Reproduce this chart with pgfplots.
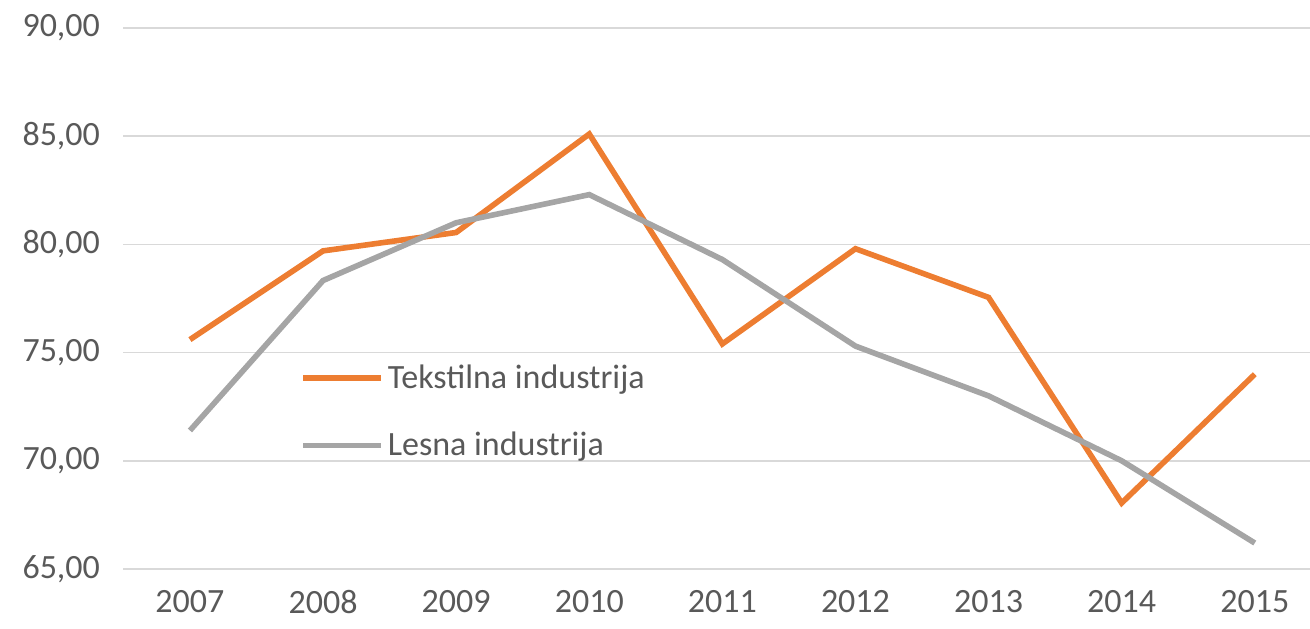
\documentclass[border=0pt]{standalone}
\usepackage{pgfplots}
\pgfplotsset{compat=1.18}
\usepackage{fontspec}
\setmainfont{Carlito}
\definecolor{orng}{HTML}{ED7D31}
\definecolor{gry}{HTML}{A5A5A5}
\definecolor{txt}{HTML}{595959}
\definecolor{grd}{HTML}{D9D9D9}
\begin{document}
\begin{tikzpicture}
\begin{axis}[
  scale only axis,
  width=593.5pt, height=270.5pt,
  xmin=2006.497, xmax=2015.415,
  ymin=65, ymax=90,
  ytick={65,70,75,80,85,90},
  xtick={2007,2008,2009,2010,2011,2012,2013,2014,2015},
  axis line style={draw=none},
  tick style={draw=none},
  ymajorgrids, grid style={grd, line width=0.8pt},
  font=\fontsize{17}{20}\selectfont,
  ticklabel style={text=txt},
  /pgf/number format/assume math mode=true,
  yticklabel style={/pgf/number format/use comma, /pgf/number format/fixed, /pgf/number format/fixed zerofill, /pgf/number format/precision=2, xshift=-8pt},
  xticklabel style={/pgf/number format/set thousands separator={}, yshift=-7pt},
  legend style={at={(rel axis cs:0.149,0.386)}, anchor=north west, draw=none, fill=none,
    font=\fontsize{17}{20}\selectfont, text=txt, row sep=16.5pt, inner sep=0pt,
    cells={anchor=west}},
  legend image code/.code={\draw[line width=2.8pt] (0pt,0pt) -- (39pt,0pt);},
]
\addplot[orng, line width=2.8pt] coordinates {
(2007,75.6) (2008,79.7) (2009,80.55) (2010,85.1) (2011,75.4) (2012,79.8) (2013,77.55) (2014,68.05) (2015,74.0)};
\addlegendentry{Tekstilna industrija}
\addplot[gry, line width=2.8pt] coordinates {
(2007,71.4) (2008,78.33) (2009,81.0) (2010,82.3) (2011,79.3) (2012,75.3) (2013,73.0) (2014,70.0) (2015,66.2)};
\addlegendentry{Lesna industrija}
\end{axis}
\pgfresetboundingbox
\path ([xshift=-61.5pt,yshift=-30pt]current axis.south west) rectangle ([yshift=14pt]current axis.north east);
\end{tikzpicture}
\end{document}
